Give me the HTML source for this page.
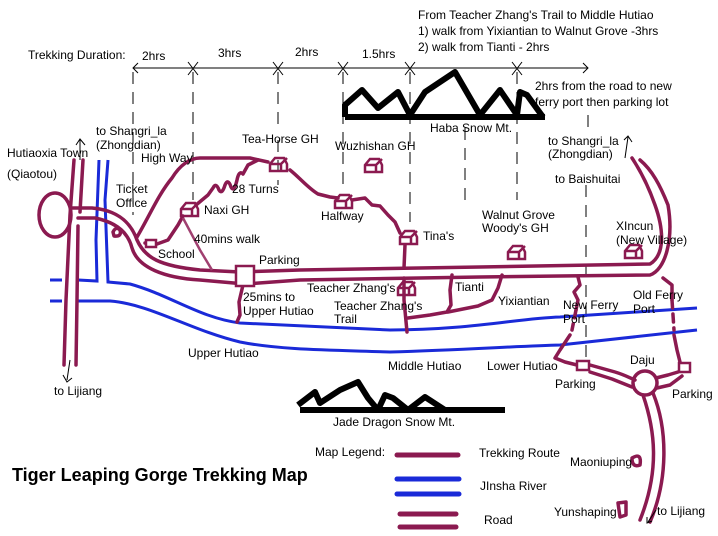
<!DOCTYPE html>
<html><head><meta charset="utf-8"><style>
html,body{margin:0;padding:0;background:#fff;}
svg{display:block;}
text{font-family:"Liberation Sans",Arial,sans-serif;font-size:12px;fill:#000;}
</style></head><body>
<svg width="718" height="536" viewBox="0 0 718 536" xmlns="http://www.w3.org/2000/svg">
<defs>
<g id="h"><path d="M-8,-1 L-3,-7 L6,-7 L9,-1 L9,6 L-8,6 Z M-8,-1 L3,-1 L9,-7 M3,-1 L3,6" fill="none" stroke="#8b1a50" stroke-width="2.5"/></g>
</defs>
<text x="418" y="19">From Teacher Zhang's Trail to Middle Hutiao</text>
<text x="418" y="35">1) walk from Yixiantian to Walnut Grove -3hrs</text>
<text x="418" y="51">2) walk from Tianti - 2hrs</text>
<text x="28" y="59">Trekking Duration:</text>
<text x="142" y="60">2hrs</text>
<text x="218" y="57">3hrs</text>
<text x="295" y="56">2hrs</text>
<text x="362" y="58">1.5hrs</text>
<text x="535" y="90">2hrs from the road to new</text>
<text x="535" y="106">ferry port then parking lot</text>
<g stroke="#000" stroke-width="1" fill="none">
<line x1="133" y1="68" x2="588" y2="68"/>
<path d="M138,63 L133,68 L138,73 M583,63 L588,68 L583,73"/>
<path d="M188,62 L198,75 M198,62 L188,75 M273,62 L283,75 M283,62 L273,75 M338,62 L348,75 M348,62 L338,75 M405,62 L415,75 M415,62 L405,75 M512,62 L522,75 M522,62 L512,75"/>
<g stroke-dasharray="12,8">
<line x1="133" y1="72" x2="133" y2="215"/>
<line x1="193" y1="72" x2="193" y2="200"/>
<line x1="278" y1="72" x2="278" y2="125"/>
<line x1="278" y1="140" x2="278" y2="185"/>
<line x1="343" y1="72" x2="343" y2="185"/>
<line x1="410" y1="72" x2="410" y2="222"/>
<line x1="465" y1="128" x2="465" y2="200"/>
<line x1="517" y1="72" x2="517" y2="200"/>
<line x1="588" y1="115" x2="588" y2="128"/>
<line x1="586" y1="185" x2="586" y2="365"/>
</g>
</g>
<path d="M345,117 L545,117 M345,117 L345,105 L362,90 L378,108 L398,92 L410,115 L425,92 L455,72 L480,115 L500,90 L517,115 L520,92 L527,95 L543,117" fill="none" stroke="#000" stroke-width="6" stroke-linejoin="round"/>
<text x="430" y="132">Haba Snow Mt.</text>
<path d="M300,410 L505,410 M298,405 L315,392 L320,403 L340,390 L358,382 L368,398 L378,410 L385,395 L393,398 L408,410 L425,397 L445,410 L503,410" fill="none" stroke="#000" stroke-width="6" stroke-linejoin="round"/>
<text x="333" y="426">Jade Dragon Snow Mt.</text>
<g fill="none" stroke="#1a2ad8" stroke-width="3">
<path d="M50,280 L62,280 M78,280 L97,281 L96,240 L99,160"/>
<path d="M108,160 L105,200 L108,282 L130,284 C170,295 200,318 240,323 L390,330 C470,330 520,318 560,317 L697,308"/>
<path d="M50,301 L62,301 M78,301 L110,301 C150,304 190,330 240,342 C280,350 330,350 390,352 C460,350 520,346 560,345 L697,330"/>
</g>
<g fill="none" stroke="#8b1a50" stroke-width="3.5" stroke-linejoin="round" stroke-linecap="round">
<ellipse cx="55" cy="215" rx="16" ry="22"/>
<path d="M74,160 L70,215 L66,300 L64,365"/>
<path d="M83,160 L80,212"/>
<path d="M78,226 L77,300 L76,365"/>
<path d="M72,208 L92,208 C115,210 130,220 137,240 C145,258 160,266 200,270 L240,272 L300,270 L480,267 L650,264 C665,255 664,230 655,205 C648,185 640,170 632,158"/>
<path d="M78,218 L95,218 C115,222 128,232 132,248 C138,268 165,278 200,280 L245,284 L300,280 L480,277 L560,276 L650,275 C665,270 674,240 668,205 C660,185 652,170 640,160"/>
<path d="M113,232 Q116,226 120,230 Q122,237 114,236 Z"/>
<path d="M137,237 C150,215 158,195 172,178 C180,165 190,158 200,158 L250,158 L268,162"/>
<path d="M290,170 C300,178 308,188 318,194 L330,197 L338,198"/>
<path d="M352,200 L365,198 L372,205 L380,206 L388,215 L395,222 L400,233"/>
<path d="M145,243 L157,244 L168,240 L178,225 L183,216"/>
<path d="M196,205 L208,195 L213,188 Q216,182 219,190 Q222,195 225,185 Q228,178 231,187 Q234,193 237,180 Q239,170 243,174 L248,165 L258,160"/>
<path d="M405,245 L404,268 M404,278 L404,300 L407,332"/>
<path d="M452,275 L450,290 L451,305 L447,312 L430,315 L408,318"/>
<path d="M502,275 L498,288 L492,300 L478,306 L458,310 L448,312"/>
<path d="M243,285 L239,302 L240,315 L237,322"/>
<path d="M578,277 L580,285 L574,292 L578,300 L576,310"/>
<path d="M576,310 L572,330" stroke-dasharray="8,6"/>
<path d="M570,335 L560,350 L555,358 L565,362 L577,365"/>
<path d="M663,278 L672,285 L672,300"/>
<path d="M672,300 L674,330" stroke-dasharray="8,6"/>
<path d="M674,335 L677,350 L680,362"/>
<path d="M590,365 L615,372 C625,375 630,378 635,380"/>
<path d="M590,372 L612,379 L632,387"/>
<circle cx="645" cy="383" r="12"/>
<path d="M656,378 L668,375 L678,372 M657,388 L670,385 L682,376"/>
<path d="M643,395 C655,430 660,470 640,520 M653,393 C668,430 668,480 650,522"/>
<path d="M632,458 Q642,452 640,465 Q632,468 632,458 Z"/>
<path d="M618,503 L626,502 L626,515 L620,517 Z"/>
</g>
<path d="M183,218 L200,250 L212,270" fill="none" stroke="#a04070" stroke-width="2.5"/>
<g fill="#fff" stroke="#8b1a50" stroke-width="2.5">
<rect x="236" y="266" width="18" height="20"/>
<rect x="146" y="240" width="10" height="7"/>
<rect x="577" y="361" width="12" height="9"/>
<rect x="679" y="363" width="11" height="9"/>
</g>
<use href="#h" x="278" y="165"/>
<use href="#h" x="373" y="166"/>
<use href="#h" x="343" y="202"/>
<use href="#h" x="189" y="210"/>
<use href="#h" x="408" y="238"/>
<use href="#h" x="406" y="289"/>
<use href="#h" x="516" y="253"/>
<use href="#h" x="633" y="252"/>
<g stroke="#000" stroke-width="1" fill="none">
<path d="M80,160 L80,140 M76,145 L80,139 L85,145"/>
<path d="M625,158 L628,137 M624,140 L628,136 L632,142"/>
<path d="M70,360 L67,380 M63,375 L67,382 L72,378"/>
<path d="M656,510 L648,522 M647,517 L647,523 L652,521"/>
</g>
<text x="7" y="157">Hutiaoxia Town</text>
<text x="7" y="178">(Qiaotou)</text>
<text x="96" y="135">to Shangri_la</text>
<text x="96" y="149">(Zhongdian)</text>
<text x="141" y="162">High Way</text>
<text x="116" y="193">Ticket</text>
<text x="116" y="207">Office</text>
<text x="242" y="143">Tea-Horse GH</text>
<text x="335" y="150">Wuzhishan GH</text>
<text x="232" y="193">28 Turns</text>
<text x="204" y="214">Naxi GH</text>
<text x="321" y="220">Halfway</text>
<text x="423" y="240">Tina's</text>
<text x="194" y="243">40mins walk</text>
<text x="158" y="258">School</text>
<text x="259" y="264">Parking</text>
<text x="307" y="292">Teacher Zhang's</text>
<text x="334" y="310">Teacher Zhang's</text>
<text x="334" y="323">Trail</text>
<text x="243" y="301">25mins to</text>
<text x="243" y="315">Upper Hutiao</text>
<text x="455" y="291">Tianti</text>
<text x="498" y="305">Yixiantian</text>
<text x="482" y="219">Walnut Grove</text>
<text x="482" y="232">Woody's GH</text>
<text x="548" y="145">to Shangri_la</text>
<text x="548" y="158">(Zhongdian)</text>
<text x="555" y="183">to Baishuitai</text>
<text x="616" y="230">XIncun</text>
<text x="616" y="244">(New Village)</text>
<text x="563" y="309">New Ferry</text>
<text x="563" y="323">Port</text>
<text x="633" y="299">Old Ferry</text>
<text x="633" y="313">Port</text>
<text x="188" y="357">Upper Hutiao</text>
<text x="388" y="370">Middle Hutiao</text>
<text x="487" y="370">Lower Hutiao</text>
<text x="555" y="388">Parking</text>
<text x="630" y="364">Daju</text>
<text x="672" y="398">Parking</text>
<text x="54" y="395">to Lijiang</text>
<text x="315" y="456">Map Legend:</text>
<text x="479" y="457">Trekking Route</text>
<text x="480" y="490">JInsha River</text>
<text x="484" y="524">Road</text>
<text x="570" y="466">Maoniuping</text>
<text x="554" y="516">Yunshaping</text>
<text x="657" y="515">to Lijiang</text>
<text x="12" y="481" style="font-size:18px;font-weight:bold">Tiger Leaping Gorge Trekking Map</text>
<g stroke-width="5" stroke-linecap="round">
<line x1="397" y1="455" x2="458" y2="455" stroke="#8b1a50"/>
<line x1="397" y1="479" x2="459" y2="479" stroke="#1a2ad8"/>
<line x1="397" y1="494" x2="459" y2="494" stroke="#1a2ad8"/>
<line x1="400" y1="514" x2="456" y2="514" stroke="#8b1a50"/>
<line x1="400" y1="527" x2="456" y2="527" stroke="#8b1a50"/>
</g>
</svg>
</body></html>
